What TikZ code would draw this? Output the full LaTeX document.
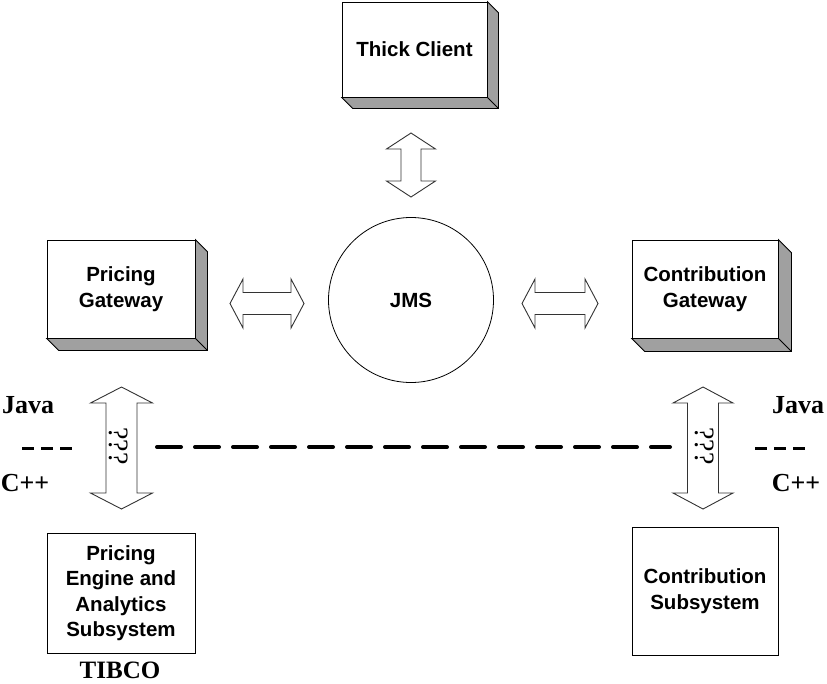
\documentclass[tikz,border=0pt]{standalone}
\usepackage{fontspec}
\setmainfont{Liberation Serif}
\newfontfamily\arialf{Liberation Sans}
\usetikzlibrary{calc}
\definecolor{sidegray}{HTML}{A0A0A0}
\tikzset{
  box/.style={draw=black, line width=0.8pt, fill=white, rectangle, align=center,
    font=\arialf\bfseries\fontsize{20.5}{25.5}\selectfont, inner sep=0pt},
  side/.style={draw=black, line width=0.8pt, fill=sidegray, line join=miter},
  blockarrow/.style={draw=black!80, line width=0.9pt, fill=white, line join=miter},
  lang/.style={font=\bfseries\fontsize{26}{28}\selectfont, inner sep=0pt},
  qq/.style={font=\fontsize{28}{30}\selectfont, rotate=-90, inner sep=0pt},
  bigdash/.style={line width=4pt, line cap=round, dash pattern=on 24pt off 14pt},
  smalldash/.style={line width=3pt, dash pattern=on 12pt off 7pt}
}
\newcommand{\dblV}[6]{\draw[blockarrow] (#1,#2) -- (#1+#4,#2+#6) -- (#1+#5,#2+#6) -- (#1+#5,#3-#6) -- (#1+#4,#3-#6) -- (#1,#3) -- (#1-#4,#3-#6) -- (#1-#5,#3-#6) -- (#1-#5,#2+#6) -- (#1-#4,#2+#6) -- cycle;}
\newcommand{\dblH}[6]{\draw[blockarrow] (#2,#1) -- (#2+#6,#1-#4) -- (#2+#6,#1-#5) -- (#3-#6,#1-#5) -- (#3-#6,#1-#4) -- (#3,#1) -- (#3-#6,#1+#4) -- (#3-#6,#1+#5) -- (#2+#6,#1+#5) -- (#2+#6,#1+#4) -- cycle;}
\newcommand{\threeD}[2]{\draw[side] (#1.north east) -- ++(#2,#2) -- ($(#1.south east)+(#2,#2)$) -- ($(#1.south west)+(#2,#2)$) -- (#1.south west) -- (#1.south east) -- cycle;
  \draw[line width=0.8pt] (#1.south east) -- ++(#2,#2);}
\begin{document}
\begin{tikzpicture}[x=1pt,y=-1pt]
\fill[white] (0,0) rectangle (827,683);
\useasboundingbox (0,0) rectangle (827,683);

% 3D boxes
\node[box, minimum width=145pt, minimum height=95pt] (tc) at (414.5,49.5) {Thick Client};
\threeD{tc}{11}
\node[box, minimum width=148pt, minimum height=98pt] (pg) at (121,289) {Pricing\\Gateway};
\threeD{pg}{12}
\node[box, minimum width=146pt, minimum height=98pt] (cg) at (705,289) {Contribution\\Gateway};
\threeD{cg}{13}

% JMS
\node[draw=black, line width=0.8pt, circle, minimum size=165pt, inner sep=0pt,
  font=\arialf\bfseries\fontsize{20.5}{25.5}\selectfont] (jms) at (411,300) {JMS};

% flat boxes
\node[box, minimum width=148pt, minimum height=120pt] (pe) at (121,593) {Pricing\\Engine and\\Analytics\\Subsystem};
\node[box, minimum width=146pt, minimum height=128pt] (cs) at (705,591) {Contribution\\Subsystem};

% block arrows
\dblV{411}{133}{197}{24.5}{10}{16}
\dblH{303.5}{230}{304}{24.5}{11}{13}
\dblH{303.5}{522}{598}{24.5}{11}{13}
\dblV{121.5}{387}{509}{31}{15.5}{16}
\dblV{703}{387}{509}{30}{15.5}{16}

\node[qq] (ql) at (119,446) {???};
\node[qq] (qr) at (705,446) {???};

% boundary lines
\coordinate (dl1) at (157,447);
\coordinate (dl2) at (670,447);
\draw[bigdash] (dl1) -- (dl2);
\coordinate (sl1) at (22,448);
\coordinate (sl2) at (72,448);
\draw[smalldash] (sl1) -- (sl2);
\coordinate (sr1) at (755,448);
\coordinate (sr2) at (805,448);
\draw[smalldash] (sr1) -- (sr2);

% labels
\node[lang] (javal) at (28,405) {Java};
\node[lang] (cppl) at (25,483) {C++};
\node[lang] (javar) at (798,405) {Java};
\node[lang] (cppr) at (796,483) {C++};
\node[lang, font=\bfseries\fontsize{25}{28}\selectfont] (tibco) at (120,670) {TIBCO};
\end{tikzpicture}
\end{document}
